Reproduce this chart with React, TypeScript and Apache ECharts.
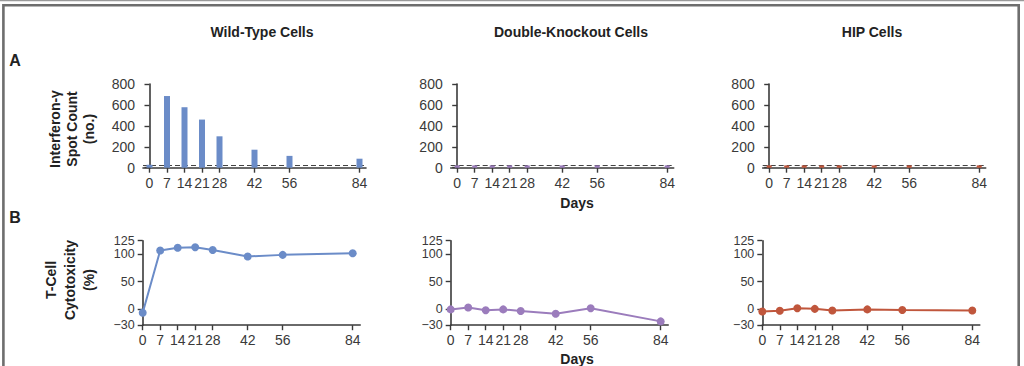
import React, { useEffect, useRef } from "react";
import * as echarts from "echarts";

const days = [0, 7, 14, 21, 28, 42, 56, 84];
const dayTicks = [0, 7, 14, 21, 28, 42, 56, 84];
const spotTicks = [0, 200, 400, 600, 800];
const cytoTicks = [-30, 0, 50, 100];
const cytoTopTick = [125];

const wtSpots = [28, 685, 578, 460, 300, 172, 113, 86];
const dkoSpots = [22, 22, 22, 22, 22, 22, 22, 22];
const hipSpots = [22, 22, 22, 22, 22, 22, 22, 22];
const spotThreshold = 22;

const wtCyto = [-7, 107, 112, 113, 108, 96, 99, 102];
const dkoCyto = [-1, 2.5, -2.5, -1, -4, -9, 1, -23];
const hipCyto = [-5, -3.5, 1, 0, -3, -1, -2, -3];

const panelTitles = ["Wild-Type Cells", "Double-Knockout Cells", "HIP Cells"];
const colors = ["#6b8cc8", "#9b7cbc", "#c0563c"];

export default function App() {
  const ref = useRef<HTMLDivElement>(null);
  useEffect(() => {
    if (!ref.current) return;
    const chart = echarts.init(ref.current, undefined, { renderer: "svg" });
    const FONT = "Liberation Sans Narrow, Liberation Sans, Arial, sans-serif";
    const BFONT = "Liberation Sans, Arial, sans-serif";
    const axisColor = "#3a3a3a";
    const labelColor = "#3a3a3a";
    const fmt = (v: number) => (v < 0 ? "\u2212" + Math.abs(v) : String(v));

    const aLefts = [143, 450.7, 762.7];
    const bLefts = [142.7, 450.7, 762.3];
    const grids: any[] = [];
    const xAxes: any[] = [];
    const yAxes: any[] = [];
    const series: any[] = [];
    const spotSets = [wtSpots, dkoSpots, hipSpots];
    const cytoSets = [wtCyto, dkoCyto, hipCyto];

    const baseAxisLine = { show: true, lineStyle: { color: axisColor, width: 1.6 } };
    const baseTick = { show: true, length: 5, lineStyle: { color: axisColor, width: 1.4 } };
    const baseLabel = {
      color: labelColor, fontFamily: FONT, fontSize: 14, margin: 8,
      hideOverlap: false, showMinLabel: true, showMaxLabel: true,
    };

    for (let i = 0; i < 3; i++) {
      // Panel A grid
      grids.push({ left: aLefts[i], top: 84, width: 223, height: 83.7 });
      xAxes.push({
        type: "value", gridIndex: grids.length - 1, min: -2.6, max: 86.6,
        axisLine: { ...baseAxisLine, onZero: false },
        axisTick: { ...baseTick, customValues: dayTicks },
        axisLabel: { ...baseLabel, customValues: dayTicks, formatter: fmt },
        splitLine: { show: false },
      });
      yAxes.push({
        type: "value", gridIndex: grids.length - 1, min: 0, max: 800, interval: 200,
        axisLine: baseAxisLine,
        axisTick: { ...baseTick, customValues: spotTicks },
        axisLabel: { ...baseLabel, customValues: spotTicks, formatter: fmt },
        splitLine: { show: false },
      });
      series.push({
        type: "line", xAxisIndex: xAxes.length - 1, yAxisIndex: yAxes.length - 1,
        data: [], z: 1,
        markLine: {
          silent: true, symbol: "none", label: { show: false }, z: 1,
          lineStyle: { color: "#444", type: [5, 3], width: 1 },
          data: [{ yAxis: spotThreshold }],
        },
      });
      series.push({
        type: "bar", xAxisIndex: xAxes.length - 1, yAxisIndex: yAxes.length - 1,
        data: days.map((d, k) => [d, spotSets[i][k]]),
        barWidth: i === 0 ? 6 : 5, z: 5,
        itemStyle: { color: colors[i] },
      });
      // Panel B grid
      grids.push({ left: bLefts[i], top: 240.7, width: 217.5, height: 84.5 });
      const gi = grids.length - 1;
      xAxes.push({
        type: "value", gridIndex: gi, min: 0, max: 87,
        axisLine: { ...baseAxisLine, onZero: false },
        axisTick: { ...baseTick, customValues: dayTicks },
        axisLabel: { ...baseLabel, customValues: dayTicks, formatter: fmt },
        splitLine: { show: false },
      });
      yAxes.push({
        type: "value", gridIndex: gi, min: -30, max: 125,
        axisLine: { ...baseAxisLine, onZero: false },
        axisTick: { ...baseTick, customValues: cytoTicks },
        axisLabel: { ...baseLabel, fontSize: 12.5, lineHeight: 12, customValues: cytoTicks, formatter: fmt },
        splitLine: { show: false },
      });
      const mainY = yAxes.length - 1;
      yAxes.push({
        type: "value", gridIndex: gi, min: -30, max: 125, position: "left",
        axisLine: { show: false, onZero: false },
        axisTick: { ...baseTick, customValues: cytoTopTick },
        axisLabel: { ...baseLabel, fontSize: 12.5, lineHeight: 12, customValues: cytoTopTick, formatter: fmt },
        splitLine: { show: false },
      });
      series.push({
        type: "line", xAxisIndex: xAxes.length - 1, yAxisIndex: mainY,
        data: days.map((d, k) => [d, cytoSets[i][k]]),
        symbol: "circle", symbolSize: 8,
        lineStyle: { color: colors[i], width: 2 },
        itemStyle: { color: colors[i] },
      });
    }

    const titleX = [262, 571, 872];
    const graphic: any[] = [
      { type: "line", shape: { x1: 0, y1: 0.5, x2: 1024, y2: 0.5 }, style: { stroke: "#9a9a9a", lineWidth: 1.5 } },
      { type: "rect", shape: { x: 3.4, y: 5.2, width: 1015.3, height: 420 }, style: { fill: "none", stroke: "#6e6e6e", lineWidth: 2.6 } },
      ...panelTitles.map((t, i) => ({
        type: "text", x: titleX[i], y: 32,
        style: { text: t, fill: "#222", font: `bold 14px ${BFONT}`, textAlign: "center", textVerticalAlign: "middle" },
      })),
      { type: "text", x: 15, y: 60, style: { text: "A", fill: "#222", font: `bold 16px ${BFONT}`, textAlign: "center", textVerticalAlign: "middle" } },
      { type: "text", x: 15, y: 217, style: { text: "B", fill: "#222", font: `bold 16px ${BFONT}`, textAlign: "center", textVerticalAlign: "middle" } },
      { type: "text", x: 577, y: 203, style: { text: "Days", fill: "#222", font: `bold 14px ${BFONT}`, textAlign: "center", textVerticalAlign: "middle" } },
      { type: "text", x: 577, y: 359, style: { text: "Days", fill: "#222", font: `bold 14px ${BFONT}`, textAlign: "center", textVerticalAlign: "middle" } },
      {
        type: "text", x: 72, y: 129, rotation: Math.PI / 2,
        style: { text: "Interferon-\u03b3\nSpot Count\n(no.)", fill: "#222", font: `bold 14px ${BFONT}`, lineHeight: 17, textAlign: "center", textVerticalAlign: "middle" },
      },
      {
        type: "text", x: 70, y: 280, rotation: Math.PI / 2,
        style: { text: "T-Cell\nCytotoxicity\n(%)", fill: "#222", font: `bold 14px ${BFONT}`, lineHeight: 19, textAlign: "center", textVerticalAlign: "middle" },
      },
    ];

    chart.setOption({
      animation: false,
      backgroundColor: "#fff",
      grid: grids,
      xAxis: xAxes,
      yAxis: yAxes,
      series,
      graphic,
    });
    return () => chart.dispose();
  }, []);
  return <div ref={ref} style={{ position: "fixed", left: 0, top: 0, width: 1024, height: 366 }} />;
}
